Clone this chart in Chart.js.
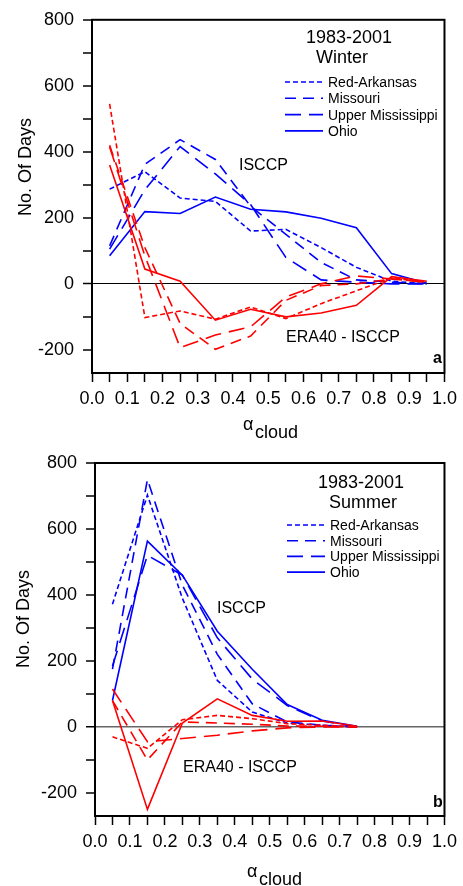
<!DOCTYPE html>
<html>
<head>
<meta charset="utf-8">
<script src="https://cdn.jsdelivr.net/npm/chart.js@4.4.1/dist/chart.umd.min.js"></script>
<style>
  html, body { margin: 0; padding: 0; background: #fff; }
  canvas { position: absolute; left: 0; }
  #winter { top: 0; }
  #summer { top: 440px; }
</style>
</head>
<body>
<canvas id="winter" width="463" height="440"></canvas>
<canvas id="summer" width="463" height="446"></canvas>
<script>
// basins, in legend order
const basins = ['Red-Arkansas', 'Missouri', 'Upper Mississippi', 'Ohio'];

// cloud albedo bins
const alphaWinter = [0.05, 0.15, 0.25, 0.35, 0.45, 0.55, 0.65, 0.75, 0.85, 0.95];
const alphaSummer = [0.05, 0.15, 0.25, 0.35, 0.45, 0.55, 0.65, 0.75];

// winter, ISCCP number of days
const winterIsccpRedArkansas = [287, 340, 260, 250, 160, 165, 110, 50, 8, 0];
const winterIsccpMissouri    = [115, 362, 437, 377, 235, 150, 65, 12, 5, 0];
const winterIsccpUpperMiss   = [105, 285, 416, 333, 240, 80, 12, 5, 0, 0];
const winterIsccpOhio        = [85, 219, 213, 263, 226, 218, 199, 170, 31, 2];
// winter, ERA40 - ISCCP
const winterDiffRedArkansas = [545, -102, -82, -107, -70, -105, -60, -21, 18, 5];
const winterDiffMissouri    = [420, 110, -120, -198, -158, -50, -5, 0, 15, 5];
const winterDiffUpperMiss   = [415, 85, -193, -155, -130, -40, 0, 24, 15, 5];
const winterDiffOhio        = [360, 45, 8, -110, -77, -100, -88, -65, 22, 8];

// summer, ISCCP number of days
const summerIsccpRedArkansas = [372, 703, 390, 141, 45, 12, 5, 0];
const summerIsccpMissouri    = [175, 750, 430, 220, 70, 15, 5, 0];
const summerIsccpUpperMiss   = [185, 520, 460, 270, 145, 65, 18, 0];
const summerIsccpOhio        = [80, 563, 460, 290, 175, 68, 20, 2];
// summer, ERA40 - ISCCP
const summerDiffRedArkansas = [-30, -65, 22, 35, 25, 10, 5, 0];
const summerDiffMissouri    = [80, -100, 15, 12, 8, 3, 2, 0];
const summerDiffUpperMiss   = [115, -45, -35, -25, -12, -3, 0, 0];
const summerDiffOhio        = [80, -250, 12, 85, 35, 17, 18, 2];

// tick labels
const xTickLabels = ['0.0', '0.1', '0.2', '0.3', '0.4', '0.5', '0.6', '0.7', '0.8', '0.9', '1.0'];
const yTickLabels = [-200, 0, 200, 400, 600, 800];

const FONT = '"Liberation Sans", Arial, Helvetica, sans-serif';
const BLUE = '#0000ff';
const RED = '#ff0000';
const dashes = [[5, 3], [11, 7], [16, 8], []];

function series(xs, ys) {
    return ys.map((y, i) => ({ x: xs[i], y: y }));
}

function lines(xs, groups, color) {
    return groups.map((ys, i) => ({
        label: basins[i],
        data: series(xs, ys),
        borderColor: color,
        borderWidth: 1.6,
        borderDash: dashes[i],
        pointRadius: 0,
        fill: false,
        tension: 0
    }));
}

// frame, legend and the texts inside / around the plot
function decor(p) {
    return {
        id: 'decor',
        afterDraw(chart) {
            const ctx = chart.ctx;
            const a = chart.chartArea;
            ctx.save();
            ctx.strokeStyle = '#000';
            ctx.lineWidth = 2;
            ctx.strokeRect(a.left, a.top, a.right - a.left, a.bottom - a.top);

            ctx.fillStyle = '#000';
            ctx.textBaseline = 'alphabetic';
            ctx.textAlign = 'center';
            ctx.font = '18px ' + FONT;
            ctx.fillText('1983-2001', p.headX, p.headY);
            ctx.fillText(p.season, p.seasonX, p.headY + 20);

            ctx.textAlign = 'left';
            ctx.font = '14px ' + FONT;
            basins.forEach((name, i) => {
                const y = p.legY + i * p.legStep;
                ctx.beginPath();
                ctx.setLineDash(dashes[i]);
                ctx.strokeStyle = BLUE;
                ctx.lineWidth = 1.6;
                ctx.moveTo(p.legX, y);
                ctx.lineTo(p.legX + 38, y);
                ctx.stroke();
                ctx.setLineDash([]);
                ctx.fillText(name, p.legX + 43, y + 5);
            });

            ctx.font = '16px ' + FONT;
            ctx.fillText('ISCCP', p.isccpX, p.isccpY);
            ctx.fillText('ERA40 - ISCCP', p.diffX, p.diffY);
            ctx.font = 'bold 16px ' + FONT;
            ctx.fillText(p.tag, 433, p.tagY);

            ctx.font = '18px ' + FONT;
            ctx.fillText('\u03b1', p.alphaX, p.alphaY);
            ctx.fillText('cloud', p.alphaX + 12, p.alphaY + 8);

            ctx.translate(p.yTitleX, p.yTitleY);
            ctx.rotate(-Math.PI / 2);
            ctx.textAlign = 'center';
            ctx.textBaseline = 'middle';
            ctx.fillText('No. Of Days', 0, 0);
            ctx.restore();
        }
    };
}

function makeChart(id, xs, isccp, diff, p) {
    new Chart(document.getElementById(id), {
        type: 'line',
        data: {
            datasets: lines(xs, diff, RED).concat(lines(xs, isccp, BLUE))
        },
        options: {
            responsive: false,
            animation: false,
            layout: { padding: { top: p.padTop, right: p.padRight, left: 0, bottom: 0 } },
            plugins: { legend: { display: false }, title: { display: false }, tooltip: { enabled: false } },
            scales: {
                x: {
                    type: 'linear',
                    min: 0,
                    max: 1,
                    afterFit: (s) => { s.height = p.xHeight; },
                    ticks: {
                        stepSize: 0.05,
                        maxTicksLimit: 50,
                        autoSkip: false,
                        maxRotation: 0,
                        padding: 6,
                        color: '#000',
                        font: { family: FONT, size: 18 },
                        callback: (v) => {
                            const k = Math.round(v * 20);
                            return k % 2 === 0 ? xTickLabels[k / 2] : '';
                        }
                    },
                    grid: { drawOnChartArea: false, tickLength: 9, tickColor: '#000', tickWidth: 1.5 },
                    border: { color: '#000', width: 2 }
                },
                y: {
                    min: -270,
                    max: 800,
                    afterFit: (s) => { s.width = p.yWidth; },
                    ticks: {
                        stepSize: 100,
                        maxTicksLimit: 50,
                        includeBounds: false,
                        autoSkip: false,
                        padding: 9,
                        color: '#000',
                        font: { family: FONT, size: 18 },
                        callback: (v) => yTickLabels.includes(v) ? String(v) : ''
                    },
                    grid: {
                        drawOnChartArea: true,
                        color: (c) => c.tick && c.tick.value === 0 ? p.zeroColor : 'rgba(0,0,0,0)',
                        lineWidth: (c) => c.tick && c.tick.value === 0 ? p.zeroWidth : 0,
                        tickLength: 9,
                        tickColor: '#000',
                        tickWidth: 1.5
                    },
                    border: { color: '#000', width: 2 }
                }
            }
        },
        plugins: [decor(p)]
    });
}

makeChart('winter', alphaWinter,
    [winterIsccpRedArkansas, winterIsccpMissouri, winterIsccpUpperMiss, winterIsccpOhio],
    [winterDiffRedArkansas, winterDiffMissouri, winterDiffUpperMiss, winterDiffOhio],
    {
        padTop: 19, padRight: 16, xHeight: 67, yWidth: 92,
        zeroColor: '#000', zeroWidth: 1,
        season: 'Winter', headX: 349, seasonX: 342, headY: 43,
        legX: 285, legY: 82, legStep: 16.3,
        isccpX: 239, isccpY: 170, diffX: 286, diffY: 342,
        tag: 'a', tagY: 363,
        alphaX: 243, alphaY: 430,
        yTitleX: 26, yTitleY: 167
    });

makeChart('summer', alphaSummer,
    [summerIsccpRedArkansas, summerIsccpMissouri, summerIsccpUpperMiss, summerIsccpOhio],
    [summerDiffRedArkansas, summerDiffMissouri, summerDiffUpperMiss, summerDiffOhio],
    {
        padTop: 23, padRight: 13, xHeight: 70, yWidth: 95,
        zeroColor: '#666', zeroWidth: 1.5,
        season: 'Summer', headX: 361, seasonX: 363, headY: 48,
        legX: 287, legY: 85, legStep: 15.7,
        isccpX: 217, isccpY: 173, diffX: 183, diffY: 332,
        tag: 'b', tagY: 367,
        alphaX: 247, alphaY: 437,
        yTitleX: 24, yTitleY: 179
    });
</script>
</body>
</html>
